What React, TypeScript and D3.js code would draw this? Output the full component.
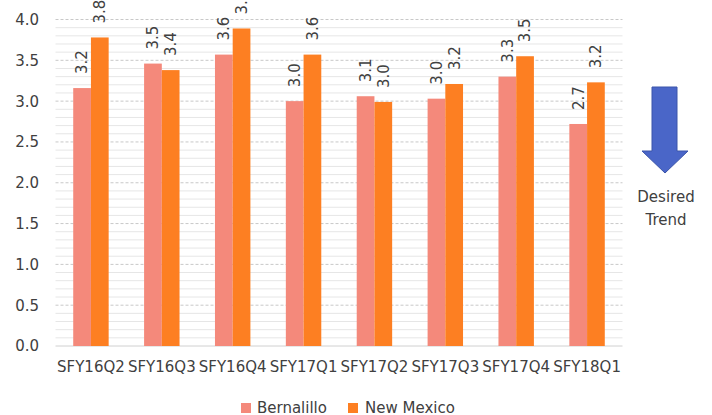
import React from "react";
import * as d3 from "d3";

const categories = ["SFY16Q2", "SFY16Q3", "SFY16Q4", "SFY17Q1", "SFY17Q2", "SFY17Q3", "SFY17Q4", "SFY18Q1"];
const bernalillo = [3.16, 3.46, 3.57, 3.0, 3.06, 3.03, 3.3, 2.72];
const newMexico = [3.78, 3.38, 3.89, 3.57, 2.99, 3.21, 3.55, 3.23];
const seriesNames = ["Bernalillo", "New Mexico"];
const seriesColors = ["#F4897B", "#FD7F22"];
const yTicks = [0, 0.5, 1, 1.5, 2, 2.5, 3, 3.5, 4];

const W = 712;
const H = 415;
const FONT = "DejaVu Sans";

export default function App() {
  const y = d3.scaleLinear().domain([0, 4]).range([346, 19.5]);
  const x = d3.scaleBand<string>().domain(categories).range([55.5, 622.5]).paddingInner(0.5).paddingOuter(0.25);
  const xs = d3.scaleBand<string>().domain(seriesNames).range([0, x.bandwidth()]);
  const series = [bernalillo, newMexico];
  const minor = d3.range(1, 40).map((i) => i / 10).filter((v) => Math.abs(v * 2 - Math.round(v * 2)) > 1e-6);

  return (
    <svg width={W} height={H} style={{ position: "absolute", left: 0, top: 0, background: "#fff" }} fontFamily={FONT}>
      {minor.map((v) => (
        <line key={"m" + v} x1={55.5} x2={622.5} y1={y(v)} y2={y(v)} stroke="#E6E6E6" strokeWidth={1} />
      ))}
      {yTicks.map((v) => (
        <line key={"g" + v} x1={55.5} x2={622.5} y1={y(v)} y2={y(v)} stroke={v === 0 ? "#D0D0D0" : "#C8C8C8"} strokeWidth={1} strokeDasharray={v === 0 ? undefined : "3,2"} />
      ))}
      {yTicks.map((v) => (
        <text key={"t" + v} x={39} y={y(v)} dy="0.36em" textAnchor="end" fontSize={15} fill="#404040">
          {d3.format(".1f")(v)}
        </text>
      ))}
      {categories.map((c, i) =>
        series.map((s, j) => {
          const bx = (x(c) as number) + (xs(seriesNames[j]) as number);
          const bw = xs.bandwidth();
          const top = y(s[i]);
          return (
            <g key={c + j}>
              <rect x={bx} y={top} width={bw} height={y(0) - top} fill={seriesColors[j]} />
              <text
                transform={`translate(${bx + bw / 2},${top - 14}) rotate(-90)`}
                dy="0.36em"
                textAnchor="start"
                fontSize={15}
                fill="#404040"
              >
                {d3.format(".1f")(s[i])}
              </text>
            </g>
          );
        })
      )}
      {categories.map((c) => (
        <text key={"c" + c} x={(x(c) as number) + x.bandwidth() / 2} y={372} textAnchor="middle" fontSize={15} fill="#404040">
          {c}
        </text>
      ))}
      {seriesNames.map((n, j) => (
        <g key={"l" + n}>
          <rect x={[241, 348][j]} y={403} width={10} height={10} fill={seriesColors[j]} />
          <text x={[257, 365][j]} y={412.5} fontSize={15} fill="#404040">
            {n}
          </text>
        </g>
      ))}
      <polygon
        points="652,87 677,87 677,151 688,151 665,173 642,151 652,151"
        fill="#4A66C8"
        stroke="#3B55AA"
        strokeWidth={1}
      />
      <text x={666} y={202} textAnchor="middle" fontSize={15} fill="#404040">Desired</text>
      <text x={666} y={225} textAnchor="middle" fontSize={15} fill="#404040">Trend</text>
    </svg>
  );
}
